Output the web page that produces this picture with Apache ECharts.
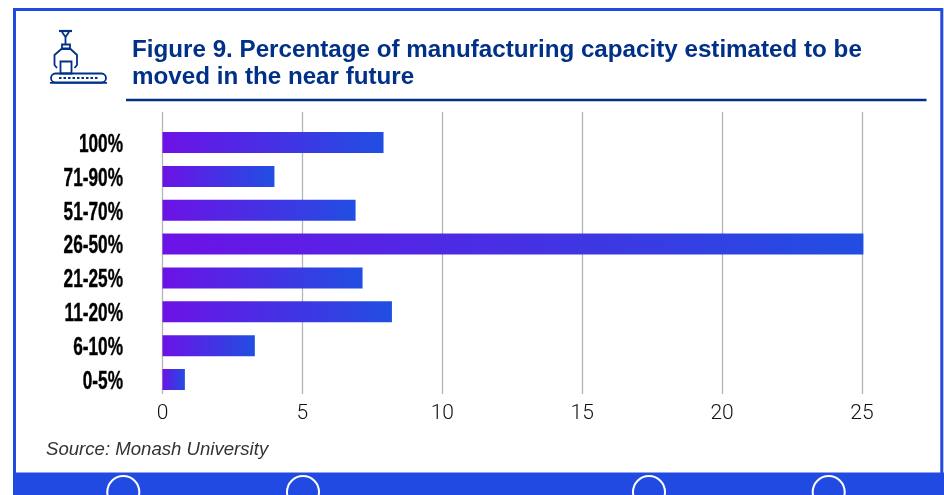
<!DOCTYPE html>
<html><head><meta charset="utf-8">
<style>html,body{margin:0;padding:0;background:#fff}#c{width:944px;height:495px}</style>
<script src="https://cdn.jsdelivr.net/npm/echarts@6/dist/echarts.min.js"></script>
</head><body><div id="c"></div>
<script>
const categories = ['100%','71-90%','51-70%','26-50%','21-25%','11-20%','6-10%','0-5%'];
const values = [7.9,4,6.9,25.05,7.15,8.2,3.3,0.8];
const chartTitle = 'Figure 9. Percentage of manufacturing capacity estimated to be\nmoved in the near future';
const sourceText = 'Source: Monash University';
const navy = '#003087', blue = '#214ae2';
const chart = echarts.init(document.getElementById('c'), null, {renderer:'canvas'});
const icon = {stroke:navy, fill:'none', lineWidth:1.8};
chart.setOption({
  animation:false,
  backgroundColor:'#fff',
  title:{text:chartTitle,left:132,top:36.5,padding:0,textStyle:{fontFamily:'Liberation Sans',fontWeight:'bold',fontSize:24.2,lineHeight:27.5,color:navy}},
  grid:[
    {left:162.5,width:699.5,top:125.6,height:270.8},
    {left:162.5,width:699.5,top:112,height:282}
  ],
  xAxis:[
    {gridIndex:0,type:'value',min:0,max:25,interval:5,show:false},
    {gridIndex:1,type:'value',min:0,max:25,interval:5,
     axisLine:{show:false},axisTick:{show:false},
     splitLine:{show:true,lineStyle:{color:'#b5b5b5',width:1.3}},
     axisLabel:{margin:9,fontFamily:'Roboto',fontWeight:300,fontSize:21,color:'#111'}}
  ],
  yAxis:[
    {gridIndex:0,type:'category',inverse:true,data:categories,
     axisLine:{show:false},axisTick:{show:false},axisLabel:{show:false}},
    {gridIndex:1,type:'value',show:false,min:0,max:1}
  ],
  series:[{
    type:'bar',xAxisIndex:0,yAxisIndex:0,data:values,barWidth:21,clip:false,
    itemStyle:{color:new echarts.graphic.LinearGradient(0,0,1,0,[{offset:0,color:'#6c12e6'},{offset:1,color:'#214ee2'}])}
  },{
    // condensed category labels, positioned through the category axis
    type:'custom',xAxisIndex:0,yAxisIndex:0,clip:false,silent:true,
    data:categories.map((c,i)=>[0,c]),
    encode:{x:0,y:1},
    renderItem:(params,api)=>{
      const p = api.coord([0,categories[params.dataIndex]]);
      return {type:'text',x:p[0]-39.5,y:p[1]+2.5,scaleX:0.69,
        style:{text:categories[params.dataIndex],font:'bold 25px "Liberation Sans"',fill:'#000',stroke:'#000',lineWidth:0.4,align:'right',verticalAlign:'middle'}};
    }
  }],
  graphic:[
    // frame and footer
    {type:'rect',z:1,shape:{x:14.5,y:9.5,width:927.3,height:470},style:{fill:'none',stroke:blue,lineWidth:3}},
    {type:'rect',z:2,shape:{x:13,y:472.5,width:931,height:23},style:{fill:blue}},
    ...[123.3,303,649,828.7].map(x=>({type:'circle',z:3,shape:{cx:x,cy:492,r:16},style:{fill:'none',stroke:'#fff',lineWidth:2}})),
    // rule under title
    {type:'rect',z:2,shape:{x:126,y:98.8,width:800.5,height:2.4},style:{fill:navy}},
    // source
    {type:'text',z:3,left:46,top:440,style:{text:sourceText,font:'italic 18.6px "Liberation Sans"',fill:'#333'}},
    // icon
    {type:'line',z:3,shape:{x1:59,y1:31,x2:72,y2:31},style:{stroke:navy,lineWidth:2.2}},
    {type:'polyline',z:3,shape:{points:[[62,32],[65.5,37],[65.5,44]]},style:icon},
    {type:'polyline',z:3,shape:{points:[[69,32],[65.5,37]]},style:icon},
    {type:'polyline',z:3,shape:{points:[[57,68],[54.5,65],[54.5,55],[62,48.5],[70,48.5],[77,55],[77,65],[74.5,68]]},style:icon},
    {type:'rect',z:3,shape:{x:62,y:44.5,width:8,height:4.5},style:icon},
    {type:'rect',z:3,shape:{x:60.5,y:61.5,width:11,height:12},style:icon},
    {type:'rect',z:3,shape:{x:51,y:73.5,width:55,height:9,r:4.5},style:icon},
    {type:'line',z:3,shape:{x1:50,y1:82.8,x2:107,y2:82.8},style:{stroke:navy,lineWidth:1.8}},
    {type:'line',z:3,shape:{x1:59,y1:78,x2:99,y2:78},style:{stroke:navy,lineWidth:2,lineDash:[2.5,2]}}
  ]
});
</script></body></html>
